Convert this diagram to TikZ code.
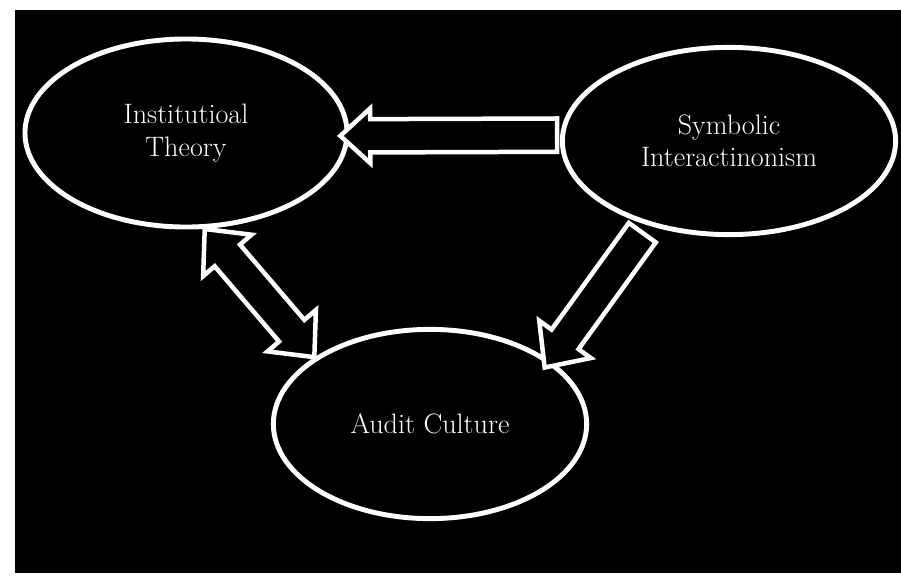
\documentclass[tikz,border=0pt]{standalone}
\usetikzlibrary{shapes.geometric, shapes.arrows, calc}
\tikzset{
  every picture/.style={line width=3.5pt},
  bubble/.style={ellipse, draw=white, fill=black, text=white, align=center, inner sep=0pt, font=\fontsize{20}{23}\selectfont},
  blockarrow/.style={single arrow, draw=white, fill=black, line width=3.2pt, inner xsep=0pt, inner ysep=0.36cm, single arrow head extend=0.38cm, single arrow tip angle=85},
  twoway/.style={double arrow, draw=white, fill=black, line width=3.2pt, inner xsep=0pt, inner ysep=0.36cm, double arrow head extend=0.38cm, double arrow tip angle=85},
}
% block connector: style, from, to
\newcommand{\blockconn}[3]{%
  \path let \p1=(#2), \p2=(#3), \n1={veclen(\x2-\x1,\y2-\y1)}, \n2={atan2(\y2-\y1,\x2-\x1)} in
    node[#1, minimum height=\n1, rotate=\n2] at ($(\p1)!0.5!(\p2)$) {};}

\begin{document}
\begin{tikzpicture}[x=0.025cm, y=-0.025cm]
  \useasboundingbox (0,0) rectangle (901,580);
  \fill[white] (0,0) rectangle (901,580);
  \fill[black] (15,10) rectangle (901,573);
  \node[bubble, minimum width=8.05cm, minimum height=4.7cm] (inst) at (186,133) {Institutioal\\Theory};
  \node[bubble, minimum width=8.33cm, minimum height=4.68cm] (sym) at (729,141) {Symbolic\\Interactinonism};
  \node[bubble, minimum width=7.83cm, minimum height=4.73cm] (audit) at (430,424) {Audit Culture};
  \blockconn{blockarrow, single arrow head extend=0.27cm}{$(sym.178)+(6,0)$}{inst.-1}
  \blockconn{twoway}{inst.-79}{audit.150}
  \blockconn{blockarrow}{sym.-134}{audit.28}
\end{tikzpicture}
\end{document}
